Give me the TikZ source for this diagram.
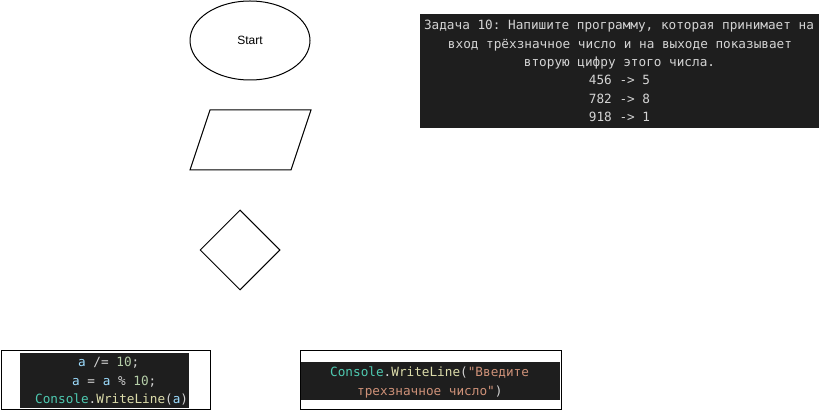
\documentclass[tikz,border=0pt]{standalone}
\usepackage{fontspec}
\setmainfont{Liberation Sans}
\newfontfamily\codefont{DejaVu Sans Mono}
\usetikzlibrary{shapes.geometric}
\definecolor{codebg}{HTML}{1E1E1E}
\definecolor{codefg}{HTML}{D4D4D4}
\definecolor{codevar}{HTML}{9CDCFE}
\definecolor{codenum}{HTML}{B5CEA8}
\definecolor{codetype}{HTML}{4EC9B0}
\definecolor{codefun}{HTML}{DCDCAA}
\definecolor{codestr}{HTML}{CE9178}
\begin{document}
\begin{tikzpicture}[x=1pt,y=-1pt,
  shapeline/.style={draw=black, line width=1pt, inner sep=0pt},
  codetext/.style={font=\codefont\fontsize{12.7}{18.3}\selectfont\frenchspacing, text=codefg, inner sep=0pt},
  panel/.style={fill=codebg},
  frame/.style={draw=black, line width=1pt}]
\useasboundingbox (0,0) rectangle (821,411);
\fill[white] (0,0) rectangle (821,411);

% flowchart shapes
\node[shapeline, ellipse, minimum width=120pt, minimum height=79pt,
      font=\fontsize{12}{14}\selectfont] (start) at (250,40.5) {Start};
\coordinate (io) at (250.5,140);
\draw[shapeline] ([shift={(-40.5,-30)}]io) -- ([shift={(60.5,-30)}]io)
  -- ([shift={(40.5,30)}]io) -- ([shift={(-60.5,30)}]io) -- cycle;
\node[shapeline, diamond, minimum width=80pt, minimum height=80pt] (dec) at (240,250) {};

% task panel
\fill[panel] (420,14) rectangle (819,128);
\node[codetext, anchor=base] (t1) at (619,30) {Задача 10: Напишите программу, которая принимает на};
\node[codetext, anchor=base] (t2) at (620,48.3) {вход трёхзначное число и на выходе показывает};
\node[codetext, anchor=base] (t3) at (619.5,66.6) {вторую цифру этого числа.};
\node[codetext, anchor=base] (t4) at (619.5,85) {456 -> 5};
\node[codetext, anchor=base] (t5) at (619.5,103.3) {782 -> 8};
\node[codetext, anchor=base] (t6) at (619.5,121.7) {918 -> 1};

% bottom-left code block
\draw[frame] (1,350) rectangle (210,409.5);
\fill[panel] (20,352.5) rectangle (189,408);
\node[codetext, anchor=base west] (c1) at (78,366.7)
  {\textcolor{codevar}{a} /= \textcolor{codenum}{10};};
\node[codetext, anchor=base west] (c2) at (72,385)
  {\textcolor{codevar}{a} = \textcolor{codevar}{a} \% \textcolor{codenum}{10};};
\node[codetext, anchor=base west] (c3) at (35,403.3)
  {\textcolor{codetype}{Console}.\textcolor{codefun}{WriteLine}(\textcolor{codevar}{a})};

% bottom-right code block
\draw[frame] (300,350) rectangle (561.5,409.5);
\fill[panel] (300.5,362) rectangle (560,400);
\node[codetext, anchor=base west] (d1) at (330,376.7)
  {\textcolor{codetype}{Console}.\textcolor{codefun}{WriteLine}(\textcolor{codestr}{"Введите}};
\node[codetext, anchor=base west] (d2) at (357,395.3)
  {\textcolor{codestr}{трехзначное число"})};
\end{tikzpicture}
\end{document}
